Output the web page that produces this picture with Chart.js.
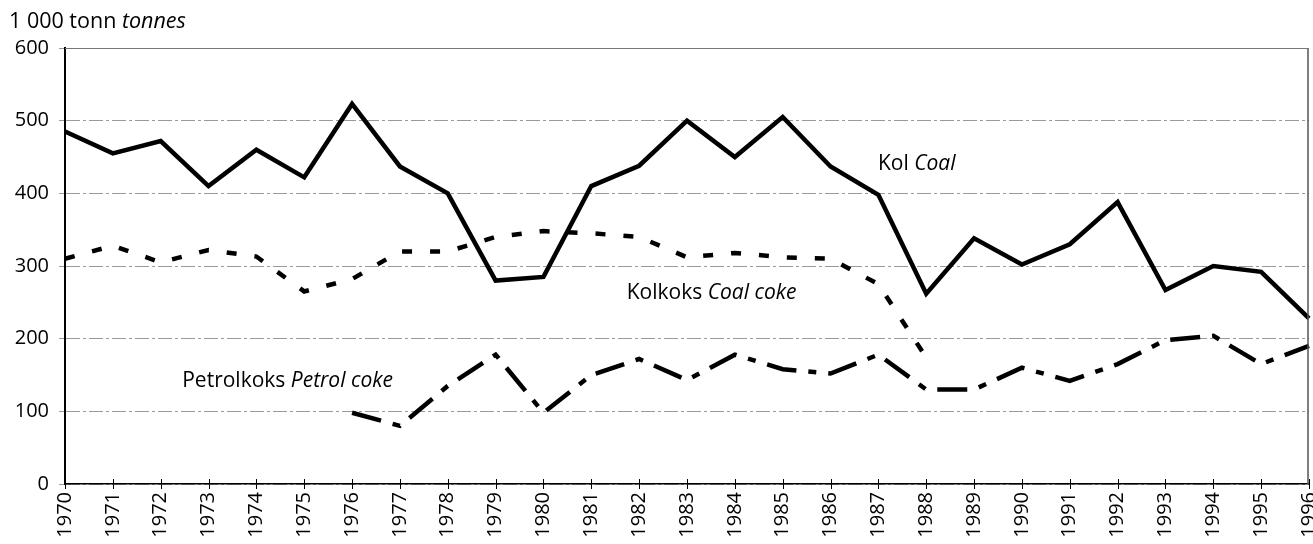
<!DOCTYPE html>
<html><head><meta charset="utf-8">
<script src="https://cdn.jsdelivr.net/npm/chart.js@4/dist/chart.umd.min.js"></script>
<style>html,body{margin:0;padding:0;background:#fff}#wrap{width:1313px;height:544px;position:relative}</style>
</head><body><div id="wrap"><canvas id="c" width="1313" height="544"></canvas></div>
<script>
const years = ['1970','1971','1972','1973','1974','1975','1976','1977','1978','1979','1980','1981','1982','1983','1984','1985','1986','1987','1988','1989','1990','1991','1992','1993','1994','1995','1996'];
const coal = [485,455,472,410,460,422,523,437,400,280,285,410,438,500,450,505,437,398,262,338,302,330,388,267,300,292,228];
const coalCoke = [310,328,305,322,313,265,282,320,320,340,348,345,340,312,318,312,310,275,174,null,null,null,null,null,null,null,null];
const petrolCoke = [null,null,null,null,null,null,98,80,135,178,98,150,172,143,178,158,152,178,130,130,160,142,165,198,204,165,190];
const yTicks = [0,100,200,300,400,500,600];
const FONT = '"Open Sans", "DejaVu Sans", sans-serif';

const textPlugin = {
  id:'texts',
  afterDraw(chart){
    const ctx = chart.ctx, x = chart.scales.x, y = chart.scales.y, ca = chart.chartArea;
    function mixed(parts, px, py, size){
      let cx = px;
      parts.forEach(p=>{
        ctx.font = (p[1] ? 'italic ' : '') + size + 'px ' + FONT;
        ctx.fillStyle = '#000';
        ctx.textBaseline = 'middle';
        ctx.textAlign = 'left';
        ctx.fillText(p[0], cx, py);
        cx += ctx.measureText(p[0]).width;
      });
    }
    mixed([['1 000 tonn ',0],['tonnes',1]], 9, 22, 21.5);
    mixed([['Kol ',0],['Coal',1]], x.getPixelForValue(16.99), y.getPixelForValue(440), 21);
    mixed([['Kolkoks ',0],['Coal coke',1]], x.getPixelForValue(11.74), y.getPixelForValue(263), 21);
    mixed([['Petrolkoks ',0],['Petrol coke',1]], x.getPixelForValue(2.45), y.getPixelForValue(142), 21);
    ctx.save();
    ctx.strokeStyle = '#555'; ctx.lineWidth = 1.5;
    ctx.beginPath(); ctx.moveTo(ca.right-1, ca.top); ctx.lineTo(ca.right-1, ca.bottom); ctx.stroke();
    ctx.strokeStyle = '#777'; ctx.lineWidth = 1;
    ctx.beginPath(); ctx.moveTo(ca.left, ca.top+0.5); ctx.lineTo(ca.right, ca.top+0.5); ctx.stroke();
    ctx.strokeStyle = '#000'; ctx.lineWidth = 1;
    const yb = y.getPixelForValue(0);
    for(let i=0;i<years.length;i++){
      const px = Math.round(x.getPixelForValue(i))+0.5;
      ctx.beginPath(); ctx.moveTo(px, yb-5); ctx.lineTo(px, yb+5); ctx.stroke();
    }
    ctx.restore();
  }
};

new Chart(document.getElementById('c'), {
  type:'line',
  data:{labels:years, datasets:[
    {label:'Kol', data:coal, borderColor:'#000', borderWidth:4.5, pointRadius:0, tension:0, fill:false},
    {label:'Kolkoks', data:coalCoke, borderColor:'#000', borderWidth:4.5, borderDash:[10,18], pointRadius:0, tension:0, fill:false, spanGaps:false},
    {label:'Petrolkoks', data:petrolCoke, borderColor:'#000', borderWidth:4.5, borderDash:[30,12,8,12], pointRadius:0, tension:0, fill:false, spanGaps:false}
  ]},
  options:{
    responsive:false, animation:false,
    layout:{padding:{left:0,right:4,top:48,bottom:0}},
    plugins:{legend:{display:false}, tooltip:{enabled:false}, title:{display:false}},
    scales:{
      x:{
        offset:false,
        grid:{display:true, drawOnChartArea:false, drawTicks:false, color:'#000'},
        border:{display:true, color:'#000', width:1.5},
        ticks:{color:'#000', font:{family:FONT, size:20}, maxRotation:90, minRotation:90, autoSkip:false, padding:8},
        afterFit(s){ s.height = 60; s.paddingLeft = 0; s.paddingRight = 0; }
      },
      y:{
        min:0, max:600,
        afterBuildTicks(s){ s.ticks = yTicks.map(v=>({value:v})); },
        grid:{color:'#9a9a9a', lineWidth:1, tickLength:6, drawTicks:true},
        border:{display:true, color:'#000', width:2, dash:[14,3,3,3]},
        ticks:{color:'#000', font:{family:FONT, size:20}, padding:10},
        afterFit(s){ s.width = 65; s.paddingTop = 0; s.paddingBottom = 0; }
      }
    }
  },
  plugins:[textPlugin]
});
</script></body></html>
